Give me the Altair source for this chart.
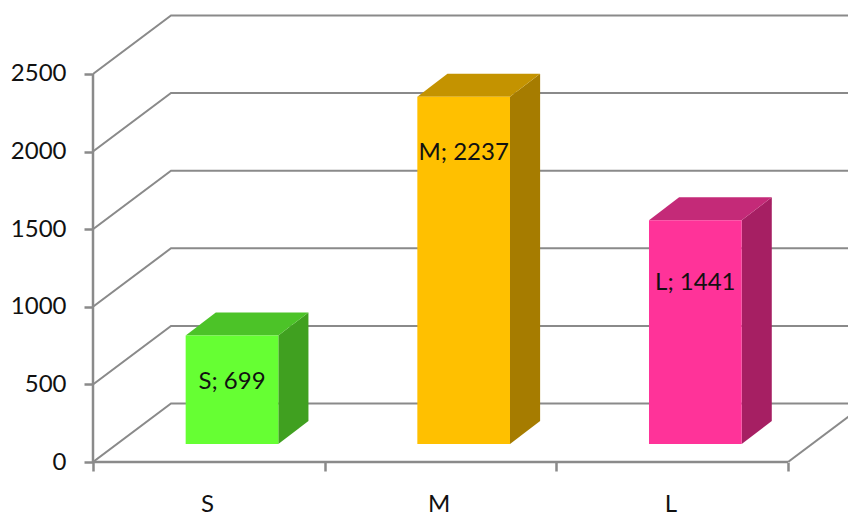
import altair as alt
import pandas as pd

categories = ["S", "M", "L"]
values = [699, 2237, 1441]
label_values = [513, 1990, 1154]
front_colors = ["#66FF33", "#FFC000", "#FF3399"]
side_colors = ["#40A020", "#A67C00", "#A61F63"]
top_colors = ["#4CC328", "#C49300", "#C42A78"]
y_ticks = [0, 500, 1000, 1500, 2000, 2500]
x_ticks = [0, 1, 2, 3]

WALL_DX, WALL_DY = 0.3367, 377
BAR_LEFT, BAR_W, BAR_BASE = 0.4, 0.4, 116
BAR_DX, BAR_DY = 0.13, 148
X_MAX, Y_MAX = 3.259, 2925
GREY = "#8A8A8A"
FONT = "Lato"

xs = alt.Scale(domain=[0, X_MAX], nice=False, zero=False)
ys = alt.Scale(domain=[0, Y_MAX], nice=False, zero=False)

grid_rows = []
for v in y_ticks:
    grid_rows += [
        {"g": v, "o": 0, "x": 0, "y": v},
        {"g": v, "o": 1, "x": WALL_DX, "y": v + WALL_DY},
        {"g": v, "o": 2, "x": X_MAX, "y": v + WALL_DY},
    ]
grid = alt.Chart(pd.DataFrame(grid_rows)).mark_line(color=GREY, strokeWidth=2, clip=True).encode(
    x=alt.X("x:Q", scale=xs, axis=alt.Axis(
        values=x_ticks, title=None, domain=False, grid=False, tickSize=9, tickWidth=2.5, tickColor=GREY,
        labelExpr="datum.value == 0 ? 'S' : datum.value == 1 ? 'M' : datum.value == 2 ? 'L' : ''",
        labelOffset=114, labelPadding=21, labelFont=FONT, labelFontSize=24, labelColor="#111111", labelAngle=0,
        labelFlush=False, labelOverlap=False, labelBound=False)),
    y=alt.Y("y:Q", scale=ys, axis=alt.Axis(
        values=y_ticks, title=None, domain=False, grid=False, tickSize=9, tickWidth=2.5, tickColor=GREY,
        labelPadding=18, labelFont=FONT, labelFontSize=24, labelColor="#111111", format="d")),
    detail="g:N", order="o:Q",
)

floor_right = alt.Chart(pd.DataFrame({"x": [3, 3 + WALL_DX], "y": [0, WALL_DY]})).mark_line(
    color=GREY, strokeWidth=2, clip=True
).encode(x=alt.X("x:Q", scale=xs), y=alt.Y("y:Q", scale=ys))

y_axis_line = alt.Chart(pd.DataFrame({"x": [0], "y": [0], "y2": [y_ticks[-1]]})).mark_rule(
    color=GREY, strokeWidth=2.5
).encode(x=alt.X("x:Q", scale=xs), y=alt.Y("y:Q", scale=ys), y2="y2:Q")
x_axis_line = alt.Chart(pd.DataFrame({"x": [0], "x2": [x_ticks[-1]], "y": [0]})).mark_rule(
    color=GREY, strokeWidth=2.5
).encode(x=alt.X("x:Q", scale=xs), x2="x2:Q", y=alt.Y("y:Q", scale=ys))

front, side, top, labels = [], [], [], []
for i, (c, v) in enumerate(zip(categories, values)):
    l = i + BAR_LEFT
    r = l + BAR_W
    t = BAR_BASE + v
    front.append({"c": front_colors[i], "x": l, "x2": r, "y": BAR_BASE, "y2": t})
    side += [
        {"c": side_colors[i], "x": r, "y": BAR_BASE, "y2": t},
        {"c": side_colors[i], "x": r + BAR_DX, "y": BAR_BASE + BAR_DY, "y2": t + BAR_DY},
    ]
    top += [
        {"c": top_colors[i], "y": t, "x": l, "x2": r},
        {"c": top_colors[i], "y": t + BAR_DY, "x": l + BAR_DX, "x2": r + BAR_DX},
    ]
    labels.append({"t": f"{c}; {v}", "x": l + BAR_W / 2, "y": label_values[i]})

color = alt.Color("c:N", scale=None, legend=None)
front_layer = alt.Chart(pd.DataFrame(front)).mark_rect().encode(
    x=alt.X("x:Q", scale=xs), x2="x2:Q", y=alt.Y("y:Q", scale=ys), y2="y2:Q", color=color)
side_layer = alt.Chart(pd.DataFrame(side)).mark_area(orient="vertical").encode(
    x=alt.X("x:Q", scale=xs), y=alt.Y("y:Q", scale=ys, stack=None), y2="y2:Q", color=color)
top_layer = alt.Chart(pd.DataFrame(top)).mark_area(orient="horizontal").encode(
    y=alt.Y("y:Q", scale=ys), x=alt.X("x:Q", scale=xs, stack=None), x2="x2:Q", color=color)
label_layer = alt.Chart(pd.DataFrame(labels)).mark_text(
    font=FONT, fontSize=24, color="#111111", align="center", baseline="middle"
).encode(x=alt.X("x:Q", scale=xs), y=alt.Y("y:Q", scale=ys), text="t:N")

chart = alt.layer(
    grid, floor_right, y_axis_line, x_axis_line, side_layer, top_layer, front_layer, label_layer
).properties(
    width=755, height=454, background="white",
    autosize=alt.AutoSizeParams(type="none"),
    padding={"left": 85, "top": 0, "right": 0, "bottom": 56},
).configure_view(stroke=None)

chart.save("out.html", embed_options={"renderer": "svg", "actions": False})
